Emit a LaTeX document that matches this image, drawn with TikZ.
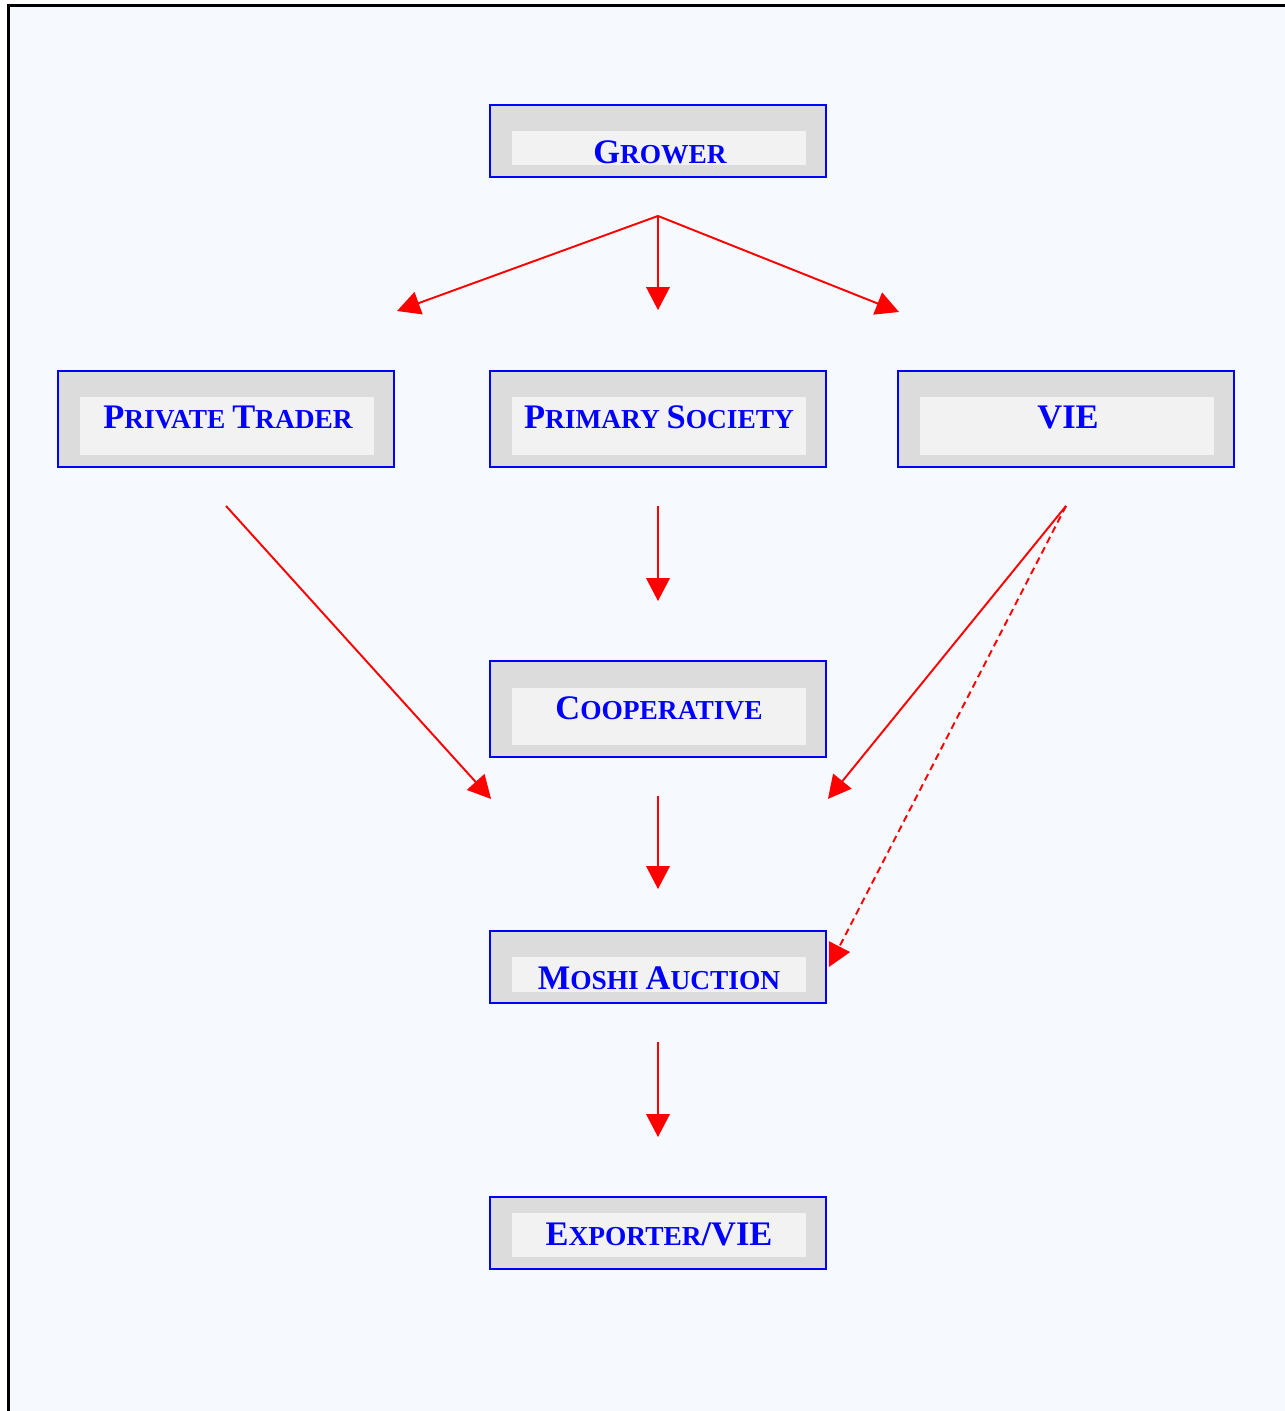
\documentclass[tikz,border=0pt]{standalone}
\usepackage{fontspec}
\setmainfont{Liberation Serif}
\usepackage{tikz}
\usetikzlibrary{arrows.meta}
\definecolor{pagebg}{HTML}{F6FAFF}
\definecolor{boxgray}{HTML}{DCDCDC}
\definecolor{boxlight}{HTML}{F2F2F2}
% fake small caps: big initial, smaller capitals
\newcommand{\capsc}[2]{{\fontsize{19.6}{22}\selectfont #1}{\fontsize{15.6}{18}\selectfont #2}}

\begin{document}
\begin{tikzpicture}[x=0.02cm,y=-0.02cm,>={Triangle[length=0.46cm,width=0.47cm]},
  outerbox/.style={draw=blue,line width=1.1pt,fill=boxgray,minimum width=6.72cm,inner sep=0pt},
  innerbox/.style={fill=boxlight,minimum width=5.88cm,inner sep=0pt},
  stagename/.style={anchor=base,text=blue,font=\bfseries,inner sep=0pt},
  flow/.style={->,red,line width=1.1pt}]
  \def\W{1285}
  \def\Hh{1411}

  % page and frame
  \useasboundingbox (0,0) rectangle (\W,\Hh);
  \fill[white] (0,0) rectangle (\W,\Hh);
  \fill[pagebg] (8.5,5.5) rectangle (\W,\Hh);
  \draw[line width=1.7pt] (8.5,\Hh) -- (8.5,5.5) -- (\W,5.5);

  % grower
  \node[outerbox,minimum height=1.44cm] (grower) at (658,141) {};
  \node[innerbox,minimum height=0.68cm] (grower-in) at (659,148) {};
  \node[stagename] (grower-txt) at (660,163) {\capsc{G}{ROWER}};

  % first buyers
  \node[outerbox,minimum height=1.92cm] (trader) at (226,419) {};
  \node[innerbox,minimum height=1.16cm] (trader-in) at (227,426) {};
  \node[stagename] (trader-txt) at (228,428) {\capsc{P}{RIVATE }\capsc{T}{RADER}};

  \node[outerbox,minimum height=1.92cm] (prim) at (658,419) {};
  \node[innerbox,minimum height=1.16cm] (prim-in) at (659,426) {};
  \node[stagename] (prim-txt) at (659,428) {\capsc{P}{RIMARY }\capsc{S}{OCIETY}};

  \node[outerbox,minimum height=1.92cm] (vie) at (1066,419) {};
  \node[innerbox,minimum height=1.16cm] (vie-in) at (1067,426) {};
  \node[stagename] (vie-txt) at (1068,428) {\capsc{VIE}{}};

  % cooperative
  \node[outerbox,minimum height=1.92cm] (coop) at (658,709) {};
  \node[innerbox,minimum height=1.14cm] (coop-in) at (659,716) {};
  \node[stagename] (coop-txt) at (659,719) {\capsc{C}{OOPERATIVE}};

  % auction
  \node[outerbox,minimum height=1.44cm] (moshi) at (658,967) {};
  \node[innerbox,minimum height=0.70cm] (moshi-in) at (659,974.5) {};
  \node[stagename] (moshi-txt) at (659,989) {\capsc{M}{OSHI }\capsc{A}{UCTION}};

  % exporter
  \node[outerbox,minimum height=1.44cm] (exporter) at (658,1233) {};
  \node[innerbox,minimum height=0.88cm] (exporter-in) at (659,1235) {};
  \node[stagename] (exporter-txt) at (659,1245) {\capsc{E}{XPORTER}\capsc{/VIE}{}};

  % free ends of the connectors
  \coordinate (split) at ([yshift=-0.76cm]grower.south);
  \coordinate (fan-l) at (397,311);
  \coordinate (fan-r) at (899,312);
  \coordinate (trader-out) at ([yshift=-0.76cm]trader.south);
  \coordinate (vie-out) at ([yshift=-0.76cm]vie.south);
  \coordinate (coop-l) at ([yshift=-0.82cm,xshift=0.04cm]coop.south west);
  \coordinate (coop-r) at ([yshift=-0.82cm,xshift=0.02cm]coop.south east);

  % grower fans out
  \draw[flow] (split) -- (fan-l);
  \draw[flow,shorten >=1.2cm] (split) -- (prim.north);
  \draw[flow] (split) -- (fan-r);

  % down the chain
  \draw[flow,shorten <=0.76cm,shorten >=1.18cm] (prim.south) -- (coop.north);
  \draw[flow] (trader-out) -- (coop-l);
  \draw[flow] (vie-out) -- (coop-r);
  \draw[flow,dash pattern=on 4pt off 2.6pt] (vie-out) -- ([xshift=0.04cm]moshi.east);
  \draw[flow,shorten <=0.76cm,shorten >=0.82cm] (coop.south) -- (moshi.north);
  \draw[flow,shorten <=0.76cm,shorten >=1.18cm] (moshi.south) -- (exporter.north);

\end{tikzpicture}
\end{document}
